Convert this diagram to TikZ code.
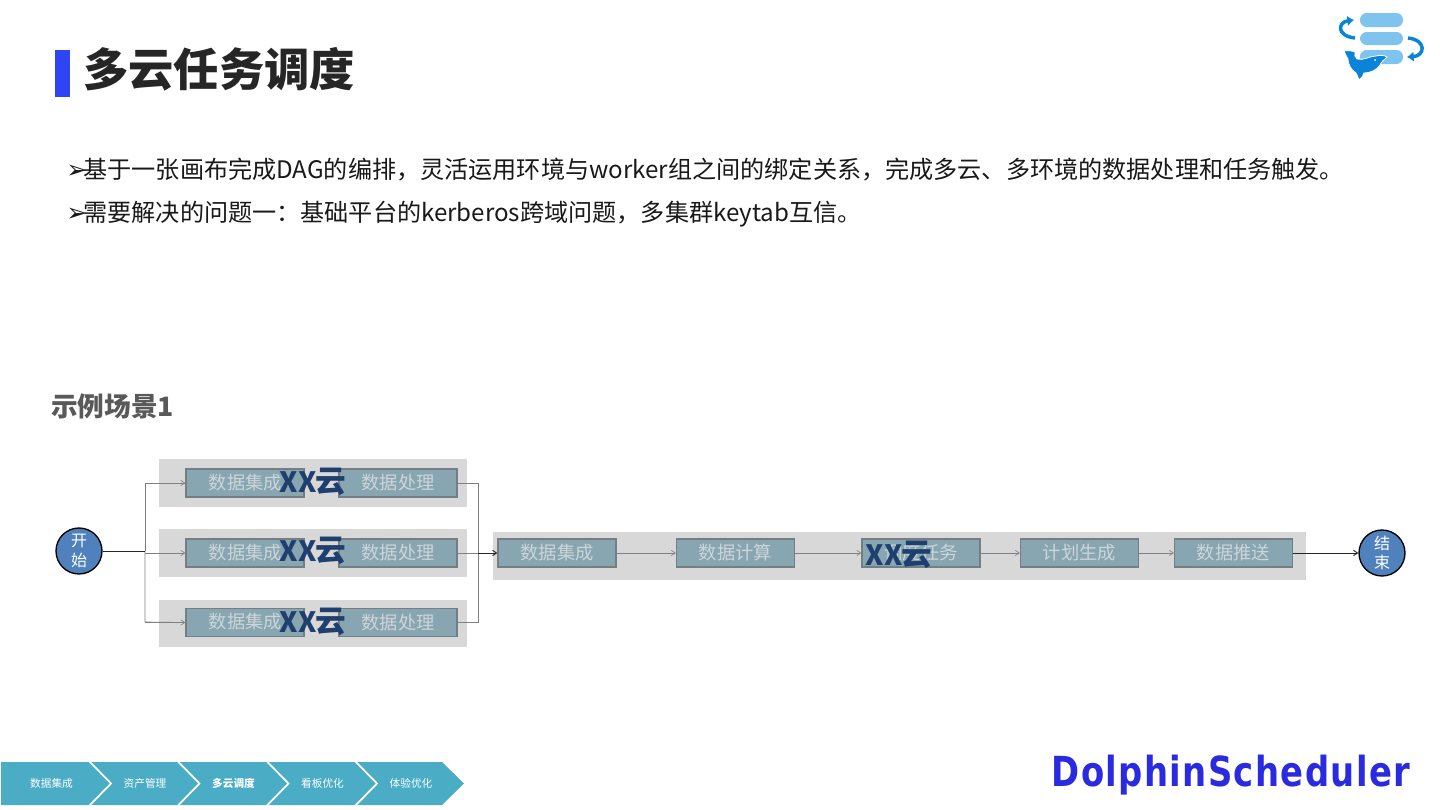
\documentclass[tikz,border=0pt]{standalone}
\usepackage{fontspec}
\setmainfont{Noto Sans CJK SC}
\newfontfamily\arrowfont{DejaVu Sans}
\newfontfamily\logofont{DejaVu Sans}[LetterSpace=4]
\usetikzlibrary{arrows.meta}
\definecolor{bandgrey}{HTML}{D8D8D8}
\definecolor{boxfill}{HTML}{87A6B2}
\definecolor{boxedge}{HTML}{757E82}
\definecolor{boxtext}{HTML}{CDD5D8}
\definecolor{cloudtext}{HTML}{1F3F6E}
\definecolor{chev}{HTML}{4BACC6}
\definecolor{circfill}{HTML}{4F81BD}
\definecolor{bar}{HTML}{2F45F5}
\definecolor{logolight}{HTML}{7FC4EF}
\definecolor{logodark}{HTML}{0B83D9}
\definecolor{brand}{HTML}{2A2AE0}
\newcommand{\cloudtxt}{{\fontsize{21pt}{26pt}\selectfont XX}\kern-1pt 云}
\newcommand{\tip}{{\arrowfont\fontsize{19pt}{20pt}\selectfont\bfseries ➢}\kern-3pt}
\tikzset{
  x=0.75pt,y=-0.75pt,
  band/.style={fill=bandgrey,draw=none},
  taskbox/.style={draw=boxedge,line width=1pt,fill=boxfill,minimum width=88.5pt,minimum height=21pt,inner sep=0pt,text=boxtext,font=\fontsize{13.7pt}{16pt}\selectfont},
  boxlabel/.style={text=boxtext,font=\fontsize{13.7pt}{16pt}\selectfont,inner sep=0pt},
  cloud/.style={text=cloudtext,font=\fontsize{23pt}{26pt}\selectfont\bfseries,inner sep=0pt},
  endpoint/.style={circle,draw=black,line width=1pt,fill=circfill,minimum size=34.5pt,inner sep=0pt,text=white,align=center,font=\fontsize{12pt}{14.5pt}\selectfont},
  link/.style={draw=black!50,line width=0.5pt},
  linkarrow/.style={link,-{Straight Barb[length=3pt,width=4pt]}},
  darklink/.style={draw=black!85,line width=0.7pt},
  chevlabel/.style={text=white,font=\fontsize{8pt}{10pt}\selectfont,inner sep=0pt},
  bullet/.style={anchor=base west,inner sep=0pt,font=\fontsize{18.1pt}{20pt}\selectfont,text=black!90},
}
\begin{document}
\begin{tikzpicture}
\useasboundingbox (0,0) rectangle (1440,810);
\fill[white] (0,0) rectangle (1440,810);
% title
\fill[bar] (55,50) rectangle (70,97);
\node[anchor=west,inner sep=0pt,text=black!85,font=\fontsize{34pt}{36pt}\selectfont\bfseries] (title) at (83,69) {多云任务调度};
% logo
\fill[logolight,rounded corners=5pt] (1360,13) rectangle (1403,27);
\fill[logolight,rounded corners=5pt] (1360,32) rectangle (1403,45);
\fill[logolight,rounded corners=5pt] (1360,50) rectangle (1403,64);
\draw[logodark,line width=2.6pt,-{Latex[length=5pt,width=8pt]}] (1355,38) .. controls (1336,36) and (1338,22) .. (1354,20);
\draw[logodark,line width=2.6pt,-{Latex[length=5pt,width=8pt]}] (1408,38) .. controls (1427,40) and (1425,56) .. (1407,57);
\fill[logodark,draw=white,line width=0.6pt] (1344,51) .. controls (1348,50) and (1352,51) .. (1355,52)
  .. controls (1354,55) and (1355,57) .. (1357,59)
  .. controls (1363,61) and (1370,56) .. (1376,56) .. controls (1380,55) and (1384,55) .. (1387,57)
  .. controls (1384,60) and (1381,62) .. (1380,65) .. controls (1377,70) and (1370,73) .. (1364,73)
  .. controls (1363,76) and (1362,78) .. (1359,80) .. controls (1358,77) and (1357,75) .. (1356,73)
  .. controls (1351,70) and (1348,64) .. (1348,59) .. controls (1347,57) and (1345,54) .. (1344,51) -- cycle;
\fill[white] (1375,60) circle (1);
% body text
\node[bullet] (lineA) at (66,178.5) {\tip 基于一张画布完成DAG的编排，灵活运用环境与worker组之间的绑定关系，完成多云、多环境的数据处理和任务触发。};
\node[bullet] (lineB) at (66,221.5) {\tip 需要解决的问题一：基础平台的kerberos跨域问题，多集群keytab互信。};
\node[anchor=west,inner sep=0pt,text=black!65,font=\fontsize{20pt}{22pt}\selectfont\bfseries] (scene) at (51,406) {示例场景1};
% bands
\fill[band] (159,459) rectangle (467,507);
\fill[band] (159,529) rectangle (467,577);
\fill[band] (159,600) rectangle (467,647);
\fill[band] (493,532) rectangle (1306,580);
% endpoints
\node[endpoint] (start) at (79,551) {开\\始};
\node[endpoint] (finish) at (1382,553) {结\\束};
% task boxes
\node[taskbox] (a1) at (245,483) {};
\node[taskbox] (b1) at (398,483) {数据处理};
\node[taskbox] (a2) at (245,553) {};
\node[taskbox] (b2) at (398,553) {数据处理};
\node[taskbox] (a3) at (245,622.5) {};
\node[taskbox] (b3) at (398,622.5) {数据处理};
\node[boxlabel] (a1t) at (245.5,483) {数据集成};
\node[boxlabel] (a2t) at (245.5,553) {数据集成};
\node[boxlabel] (a3t) at (245.5,622) {数据集成};
\node[taskbox] (c1) at (557,553) {数据集成};
\node[taskbox] (c2) at (735.5,553) {数据计算};
\node[taskbox] (c3) at (921,553) {调度任务};
\node[taskbox] (c4) at (1079.5,553) {计划生成};
\node[taskbox] (c5) at (1233.5,553) {数据推送};
% junctions
\coordinate (jl) at (145,551);
\coordinate (jr) at (478,553);
% connectors
\draw[link] (jl) -- (145,483) -- (a1.west);
\draw[link] (jl) -- (145,622) -- (a3.west);
\draw[linkarrow] (145,483) -- (a1.west);
\draw[linkarrow] (145,553) -- (a2.west);
\draw[linkarrow] (145,622.5) -- (a3.west);
\draw[link] (b1.east) -- (478,483) -- (jr);
\draw[link] (b3.east) -- (478,622.5) -- (jr);
\draw[link] (b2.east) -- (jr);
\draw[darklink] (start.east) -- (jl);
\draw[darklink,-{Straight Barb[length=3pt,width=4pt]}] (jr) -- (c1.west);
\draw[linkarrow] (c1) -- (c2);
\draw[linkarrow] (c2) -- (c3);
\draw[linkarrow] (c3) -- (c4);
\draw[linkarrow] (c4) -- (c5);
\draw[darklink,-{Straight Barb[length=3pt,width=4pt]}] (c5) -- (finish);
% cloud labels
\node[cloud] (k1) at (313,482) {\cloudtxt};
\node[cloud] (k2) at (313,551) {\cloudtxt};
\node[cloud] (k3) at (313,622) {\cloudtxt};
\node[cloud] (k4) at (899,555) {\cloudtxt};
% chevrons
\fill[chev] (1,762) -- (442,762) -- (464,783.5) -- (442,805) -- (1,805) -- cycle;
\draw[white,line width=1.3pt] (89,761) -- (111,783.5) -- (89,806);
\draw[white,line width=1.3pt] (177.5,761) -- (199.5,783.5) -- (177.5,806);
\draw[white,line width=1.3pt] (266.5,761) -- (288.5,783.5) -- (266.5,806);
\draw[white,line width=1.3pt] (355,761) -- (377,783.5) -- (355,806);
\node[chevlabel] (s1) at (51.5,783.5) {数据集成};
\node[chevlabel] (s2) at (145,783.5) {资产管理};
\node[chevlabel,font=\fontsize{8pt}{10pt}\selectfont\bfseries] (s3) at (233.5,783.5) {多云调度};
\node[chevlabel] (s4) at (322.5,783.5) {看板优化};
\node[chevlabel] (s5) at (411,783.5) {体验优化};
% brand
\node[text=brand,anchor=center,inner sep=0pt,font=\logofont\fontsize{27pt}{30pt}\selectfont\bfseries] (brand) at (1231,775) {\scalebox{0.94}[1.15]{DolphinScheduler}};
\end{tikzpicture}
\end{document}
